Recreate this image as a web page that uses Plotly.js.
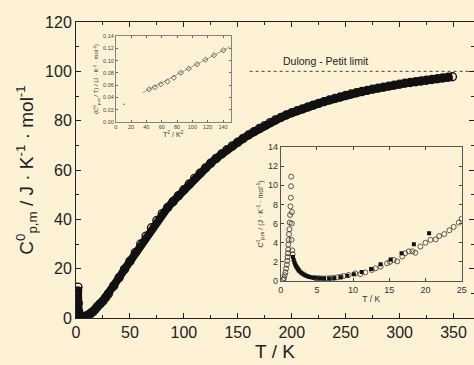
<!DOCTYPE html>
<html>
<head>
<meta charset="utf-8">
<script src="https://cdn.plot.ly/plotly-3.0.1.min.js"></script>
<style>
html,body{margin:0;padding:0;background:#FDF2D5;overflow:hidden;}
#chart{width:474px;height:365px;}
</style>
</head>
<body>
<div id="chart"></div>
<script>
// Main curve: molar heat capacity vs temperature
const mainT = [0.3,0.6,0.9,1.2,1.5,1.8,2.1,2.5,3,4,5,6,7,8,10,12,14,16,18,20,22.5,25,27.5,30,
  35,40,45,50,55,60,65,70,75,80,85,90,95,100,105,110,115,120,125,130,135,140,145,150,155,160,
  165,170,175,180,185,190,195,200,205,210,215,220,225,230,235,240,245,250,255,260,265,270,275,
  280,285,290,295,300,305,310,315,320,325,330,335,340,345,349];
const mainC = [1,3,6,9,11,12.5,6,2.5,1.3,0.6,0.35,0.3,0.35,0.5,0.9,1.4,2.0,2.7,3.6,4.7,5.8,6.9,8.3,9.8,
  13,16.4,19.8,23,26.5,30,33.2,36.6,39.5,42.3,44.8,47.2,49.6,52,54.3,56.6,58.7,60.8,62.8,64.7,66.5,68.2,
  69.8,71.3,72.8,74.2,75.5,76.8,78,79.2,80.3,81.3,82.3,83.2,84.0,84.8,85.6,86.3,87.0,87.7,88.4,89.0,
  89.6,90.2,90.8,91.3,91.8,92.3,92.8,93.2,93.6,94.0,94.4,94.8,95.2,95.5,95.8,96.1,96.4,96.7,97.0,97.3,97.6,97.8];

// Dulong-Petit limit
const dulongT = [161, 369];
const dulongC = [100, 100];
const dulongLabel = "Dulong - Petit limit";

// Inset 1: Cp/T vs T^2
const ins1X = [43.7,51,58.9,67.6,75.8,84.9,95.3,106.1,117,128.2,140.4];
const ins1Y = [0.0532,0.0565,0.0614,0.0656,0.0721,0.0803,0.0868,0.0939,0.1014,0.1086,0.1167];
const ins1FitX = [35,150];
const ins1FitY = [0.0475,0.1230];
const ins1LoneX = [10.8];
const ins1LoneY = [0.029];

// Inset 2: low-temperature Cp (open circles and filled squares)
const ins2CircT = [0.35,0.45,0.55,0.65,0.75,0.85,0.9,0.95,1.0,1.05,1.05,1.1,1.15,1.2,1.25,1.3,1.35,1.4,1.43,1.45,
  1.55,1.52,1.5,1.6,1.65,
  4.8,5.3,5.8,6.3,6.8,7.3,7.8,8.3,8.7,9.4,10.3,11.0,11.7,12.6,13.1,13.8,14.7,15.1,15.6,16.1,16.8,17.2,17.7,
  18.2,18.6,19.3,20.0,20.7,21.4,21.9,22.6,23.3,23.9,24.6,25.0];
const ins2CircC = [0.1,0.3,0.6,0.9,1.3,1.7,2.1,2.5,2.9,3.3,3.8,4.3,4.9,5.4,6.1,6.9,7.8,8.7,9.9,10.9,
  7.2,6.0,4.3,3.2,2.8,
  0.32,0.3,0.28,0.28,0.3,0.33,0.38,0.45,0.52,0.63,0.8,0.72,0.9,1.15,1.32,1.5,1.85,2.0,2.2,2.05,2.55,2.9,3.1,
  3.1,2.95,3.6,4.0,4.3,4.35,4.7,4.9,5.3,5.65,6.1,6.5];
const ins2SqT = [1.7,1.8,1.9,2.0,2.1,2.2,2.3,2.4,2.5,2.6,2.8,3.0,3.2,3.4,3.6,3.8,4.0,4.3,4.6,5.0,5.5,6.0,6.7,7.4,
  8.3,9.2,10.1,11.2,12.5,13.8,15.2,16.7,18.4,20.5];
const ins2SqC = [2.5,2.2,1.95,1.75,1.6,1.45,1.33,1.22,1.12,1.03,0.9,0.78,0.68,0.6,0.53,0.47,0.42,0.37,0.33,0.3,0.28,0.27,0.27,0.3,
  0.38,0.55,0.7,0.95,1.25,1.74,2.25,2.9,3.85,5.0];

const FONT = "Liberation Sans, Arial, Helvetica, sans-serif";
const BG = "#FDF2D5";

const traces = [
  {x: dulongT, y: dulongC, mode: 'lines', line: {color: '#444', width: 1, dash: 'dot'},
   xaxis: 'x', yaxis: 'y', hoverinfo: 'skip'},
  {x: mainT, y: mainC, mode: 'lines+markers', xaxis: 'x', yaxis: 'y',
   line: {color: '#111', width: 8},
   marker: {symbol: 'circle-open', size: 8, color: '#111', line: {width: 1.4, color: '#111'}}},
  {x: ins1FitX, y: ins1FitY, mode: 'lines', xaxis: 'x2', yaxis: 'y2',
   line: {color: '#888', width: 0.8}},
  {x: ins1X, y: ins1Y, mode: 'markers', xaxis: 'x2', yaxis: 'y2',
   marker: {symbol: 'diamond-open', size: 4, color: '#444', line: {width: 0.8}}},
  {x: ins1LoneX, y: ins1LoneY, mode: 'markers', xaxis: 'x2', yaxis: 'y2',
   marker: {symbol: 'circle', size: 1.5, color: '#555'}},
  {x: ins2CircT, y: ins2CircC, mode: 'markers', xaxis: 'x3', yaxis: 'y3',
   marker: {symbol: 'circle-open', size: 5, color: '#333', line: {width: 0.8}}},
  {x: ins2SqT, y: ins2SqC, mode: 'markers', xaxis: 'x3', yaxis: 'y3',
   marker: {symbol: 'square', size: 4, color: '#111'}}
];

const axBase = {showgrid: false, zeroline: false, showline: true, linecolor: '#222', linewidth: 1,
  ticks: 'inside', mirror: 'ticks', tickcolor: '#222'};

const layout = {
  width: 474, height: 365,
  margin: {l: 76, r: 0, t: 22, b: 47, pad: 0},
  paper_bgcolor: BG, plot_bgcolor: BG,
  showlegend: false,
  font: {family: FONT, color: '#222'},
  xaxis: Object.assign({}, axBase, {
    domain: [0, 1], range: [0, 369], tickvals: [0,50,100,150,200,250,300,350],
    ticklen: 5, tickfont: {size: 16, color: '#222'},
    minor: {dtick: 25, ticklen: 3, ticks: 'inside', tickcolor: '#222'},
    title: {text: 'T / K', font: {size: 19, color: '#222'}, standoff: 4}
  }),
  yaxis: Object.assign({}, axBase, {
    domain: [0, 1], range: [0, 120], tickvals: [0,20,40,60,80,100,120],
    ticklen: 5, tickfont: {size: 16, color: '#222'},
    minor: {dtick: 10, ticklen: 3, ticks: 'inside', tickcolor: '#222'},
    title: {text: 'C<sup>0</sup><sub>p,m</sub> / J · K<sup>-1</sup> · mol<sup>-1</sup>',
            font: {size: 19, color: '#222'}, standoff: 6}
  }),
  xaxis2: Object.assign({}, axBase, {
    domain: [0.0997, 0.3887], anchor: 'y2', range: [0, 150], dtick: 20,
    linecolor: '#666', tickcolor: '#666', ticklen: 2, linewidth: 0.8,
    tickfont: {size: 5.5, color: '#444'},
    title: {text: 'T<sup>2</sup> / K<sup>2</sup>', font: {size: 7, color: '#333'}, standoff: 2}
  }),
  yaxis2: Object.assign({}, axBase, {
    domain: [0.6622, 0.9527], anchor: 'x2', range: [0, 0.14], dtick: 0.02, tickformat: '.2f',
    linecolor: '#666', tickcolor: '#666', ticklen: 2, linewidth: 0.8,
    tickfont: {size: 5.5, color: '#444'},
    title: {text: '(C<sup>0</sup><sub>p,m</sub> / T) / (J · K<sup>-2</sup> · mol<sup>-1</sup>)',
            font: {size: 6, color: '#333'}, standoff: 3}
  }),
  xaxis3: Object.assign({}, axBase, {
    domain: [0.5143, 0.969], anchor: 'y3', range: [0, 25], dtick: 5,
    linecolor: '#444', tickcolor: '#444', ticklen: 3, linewidth: 0.9,
    tickfont: {size: 9, color: '#333'},
    title: {text: 'T / K', font: {size: 8.5, color: '#333'}, standoff: 2}
  }),
  yaxis3: Object.assign({}, axBase, {
    domain: [0.125, 0.5777], anchor: 'x3', range: [0, 14], dtick: 2,
    linecolor: '#444', tickcolor: '#444', ticklen: 3, linewidth: 0.9,
    tickfont: {size: 9, color: '#333'},
    title: {text: 'C<sup>0</sup><sub>p,m</sub> / (J · K<sup>-1</sup> · mol<sup>-1</sup>)',
            font: {size: 7, color: '#333'}, standoff: 3}
  }),
  annotations: [
    {x: 190, y: 104, xref: 'x', yref: 'y', text: dulongLabel, showarrow: false,
     xanchor: 'left', yanchor: 'middle', font: {size: 10.5, color: '#222', family: FONT}}
  ]
};

Plotly.newPlot('chart', traces, layout, {staticPlot: true, displayModeBar: false});
</script>
</body>
</html>
